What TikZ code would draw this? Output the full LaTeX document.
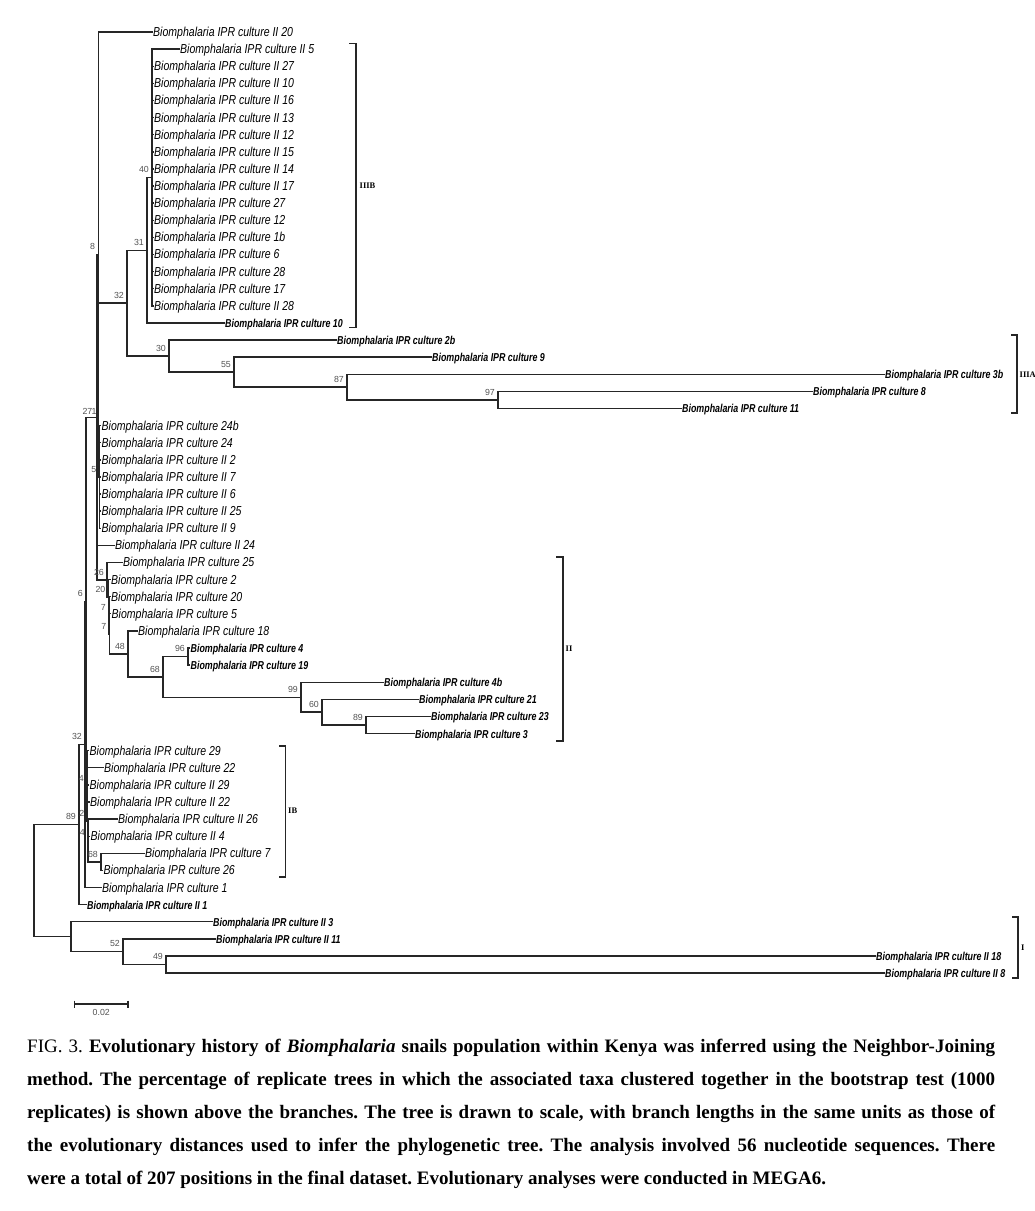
\documentclass[tikz,border=0pt]{standalone}
\usepackage{fontspec}
\newfontfamily\leaffont[FakeStretch=0.81]{Liberation Sans}
\newfontfamily\leafbold[FakeStretch=0.77]{Liberation Sans}
\newfontfamily\numfont{Liberation Sans}
\newfontfamily\capfont{Liberation Serif}
\usetikzlibrary{positioning,calc}

\begin{document}
\begin{tikzpicture}[x=1pt,y=-1pt,
br/.style={line width=1.4pt,draw=black!85,line cap=rect},
leaf/.style={anchor=west,inner sep=1pt,text height=9.5pt,text depth=0.5pt,
  font=\leaffont\itshape\fontsize{13}{13}\selectfont},
leafb/.style={leaf,font=\leafbold\bfseries\itshape\fontsize{11.5}{11.5}\selectfont},
bs/.style={inner sep=0pt,text=black!68,font=\numfont\fontsize{8.8}{8.8}\selectfont},
clade/.style={anchor=west,inner sep=0pt,font=\capfont\bfseries\fontsize{8.5}{8.5}\selectfont},
bracket/.style={line width=1.2pt,draw=black!85}]

\useasboundingbox (0,0) rectangle (1035,1211);

% internal nodes
\coordinate (n40) at (152,177.5);
\coordinate (n31) at (147,250.2);
\coordinate (n97) at (498,399.9);
\coordinate (n87) at (347,387.0);
\coordinate (n55) at (234,372.1);
\coordinate (n30) at (169,356.0);
\coordinate (n32a) at (127,303.1);
\coordinate (n5) at (99.5,476.9);
\coordinate (n8) at (98.3,254.4);
\coordinate (n27) at (97,417.2);
\coordinate (n96) at (188,656.5);
\coordinate (n89b) at (366,725.0);
\coordinate (n60) at (322,712.1);
\coordinate (n99) at (301,697.2);
\coordinate (n68) at (163,676.9);
\coordinate (n48) at (128,653.9);
\coordinate (n7b) at (109.5,633.8);
\coordinate (n7a) at (109,615.2);
\coordinate (n20) at (108.5,597.4);
\coordinate (n26) at (107,579.9);
\coordinate (n68b) at (101,861.9);
\coordinate (n4b) at (88,840.5);
\coordinate (n2) at (87.5,821.3);
\coordinate (n4a) at (87,786.0);
\coordinate (n6) at (86,601.6);
\coordinate (n32b) at (85,744.6);
\coordinate (n89) at (79,824.6);
\coordinate (n49) at (166,964.5);
\coordinate (n52) at (123,951.6);
\coordinate (nI) at (71,936.7);
\coordinate (nRoot) at (34,880.6);

% taxa
\node[leaf] (t-II20) at (152,32.0) {Biomphalaria IPR culture II 20};
\node[leaf] (t-II5) at (179,49.1) {Biomphalaria IPR culture II 5};
\node[leaf] (t-II27) at (153,66.2) {Biomphalaria IPR culture II 27};
\node[leaf] (t-II10) at (153,83.3) {Biomphalaria IPR culture II 10};
\node[leaf] (t-II16) at (153,100.4) {Biomphalaria IPR culture II 16};
\node[leaf] (t-II13) at (153,117.6) {Biomphalaria IPR culture II 13};
\node[leaf] (t-II12) at (153,134.7) {Biomphalaria IPR culture II 12};
\node[leaf] (t-II15) at (153,151.8) {Biomphalaria IPR culture II 15};
\node[leaf] (t-II14) at (153,168.9) {Biomphalaria IPR culture II 14};
\node[leaf] (t-II17) at (153,186.0) {Biomphalaria IPR culture II 17};
\node[leaf] (t-27) at (153,203.1) {Biomphalaria IPR culture 27};
\node[leaf] (t-12) at (153,220.2) {Biomphalaria IPR culture 12};
\node[leaf] (t-1b) at (153,237.3) {Biomphalaria IPR culture 1b};
\node[leaf] (t-6) at (153,254.4) {Biomphalaria IPR culture 6};
\node[leaf] (t-28) at (153,271.5) {Biomphalaria IPR culture 28};
\node[leaf] (t-17) at (153,288.7) {Biomphalaria IPR culture 17};
\node[leaf] (t-II28) at (153,305.8) {Biomphalaria IPR culture II 28};
\node[leafb] (t-10) at (224,322.9) {Biomphalaria IPR culture 10};
\node[leafb] (t-2b) at (336,340.0) {Biomphalaria IPR culture 2b};
\node[leafb] (t-9) at (431,357.1) {Biomphalaria IPR culture 9};
\node[leafb] (t-3b) at (884,374.2) {Biomphalaria IPR culture 3b};
\node[leafb] (t-8) at (812,391.3) {Biomphalaria IPR culture 8};
\node[leafb] (t-11) at (681,408.4) {Biomphalaria IPR culture 11};
\node[leaf] (t-24b) at (100.5,425.5) {Biomphalaria IPR culture 24b};
\node[leaf] (t-24) at (100.5,442.6) {Biomphalaria IPR culture 24};
\node[leaf] (t-II2) at (100.5,459.8) {Biomphalaria IPR culture II 2};
\node[leaf] (t-II7) at (100.5,476.9) {Biomphalaria IPR culture II 7};
\node[leaf] (t-II6) at (100.5,494.0) {Biomphalaria IPR culture II 6};
\node[leaf] (t-II25) at (100.5,511.1) {Biomphalaria IPR culture II 25};
\node[leaf] (t-II9) at (100.5,528.2) {Biomphalaria IPR culture II 9};
\node[leaf] (t-II24) at (114,545.3) {Biomphalaria IPR culture II 24};
\node[leaf] (t-25) at (122,562.4) {Biomphalaria IPR culture 25};
\node[leaf] (t-2) at (110,579.5) {Biomphalaria IPR culture 2};
\node[leaf] (t-20) at (110,596.6) {Biomphalaria IPR culture 20};
\node[leaf] (t-5) at (110.5,613.7) {Biomphalaria IPR culture 5};
\node[leaf] (t-18) at (137,630.9) {Biomphalaria IPR culture 18};
\node[leafb] (t-4) at (189.5,648.0) {Biomphalaria IPR culture 4};
\node[leafb] (t-19) at (189.5,665.1) {Biomphalaria IPR culture 19};
\node[leafb] (t-4b) at (383,682.2) {Biomphalaria IPR culture 4b};
\node[leafb] (t-21) at (418,699.3) {Biomphalaria IPR culture 21};
\node[leafb] (t-23) at (430,716.4) {Biomphalaria IPR culture 23};
\node[leafb] (t-3) at (414,733.5) {Biomphalaria IPR culture 3};
\node[leaf] (t-29) at (88.5,750.6) {Biomphalaria IPR culture 29};
\node[leaf] (t-22) at (103,767.7) {Biomphalaria IPR culture 22};
\node[leaf] (t-II29) at (88.5,784.8) {Biomphalaria IPR culture II 29};
\node[leaf] (t-II22) at (89,802.0) {Biomphalaria IPR culture II 22};
\node[leaf] (t-II26) at (117,819.1) {Biomphalaria IPR culture II 26};
\node[leaf] (t-II4) at (89.5,836.2) {Biomphalaria IPR culture II 4};
\node[leaf] (t-7) at (144,853.3) {Biomphalaria IPR culture 7};
\node[leaf] (t-26) at (102.5,870.4) {Biomphalaria IPR culture 26};
\node[leaf] (t-1) at (101,887.5) {Biomphalaria IPR culture 1};
\node[leafb] (t-II1) at (86,904.6) {Biomphalaria IPR culture II 1};
\node[leafb] (t-II3) at (212,921.7) {Biomphalaria IPR culture II 3};
\node[leafb] (t-II11) at (215,938.8) {Biomphalaria IPR culture II 11};
\node[leafb] (t-II18) at (875,955.9) {Biomphalaria IPR culture II 18};
\node[leafb] (t-II8) at (884,973.0) {Biomphalaria IPR culture II 8};

% branches
\draw[br] (n8) |- (t-II20.west) (n8) |- (n32a) (n8) |- (n5);
\draw[br] (n32a) |- (n31) (n32a) |- (n30);
\draw[br] (n31) |- (n40) (n31) |- (t-10.west);
\draw[br] (n40) |- (t-II5.west) (n40) |- (t-II27.west) (n40) |- (t-II10.west)
  (n40) |- (t-II16.west) (n40) |- (t-II13.west) (n40) |- (t-II12.west)
  (n40) |- (t-II15.west) (n40) |- (t-II14.west) (n40) |- (t-II17.west)
  (n40) |- (t-27.west) (n40) |- (t-12.west) (n40) |- (t-1b.west)
  (n40) |- (t-6.west) (n40) |- (t-28.west) (n40) |- (t-17.west)
  (n40) |- (t-II28.west);
\draw[br] (n30) |- (t-2b.west) (n30) |- (n55);
\draw[br] (n55) |- (t-9.west) (n55) |- (n87);
\draw[br] (n87) |- (t-3b.west) (n87) |- (n97);
\draw[br] (n97) |- (t-8.west) (n97) |- (t-11.west);
\draw[br] (n27) |- (n8) (n27) |- (t-II24.west) (n27) |- (n26);
\draw[br] (n5) |- (t-24b.west) (n5) |- (t-24.west) (n5) |- (t-II2.west)
  (n5) |- (t-II7.west) (n5) |- (t-II6.west) (n5) |- (t-II25.west)
  (n5) |- (t-II9.west);
\draw[br] (n26) |- (t-25.west) (n26) |- (n20);
\draw[br] (n20) |- (t-2.west) (n20) |- (n7a);
\draw[br] (n7a) |- (t-20.west) (n7a) |- (n7b);
\draw[br] (n7b) |- (t-5.west) (n7b) |- (n48);
\draw[br] (n48) |- (t-18.west) (n48) |- (n68);
\draw[br] (n68) |- (n96) (n68) |- (n99);
\draw[br] (n96) |- (t-4.west) (n96) |- (t-19.west);
\draw[br] (n99) |- (t-4b.west) (n99) |- (n60);
\draw[br] (n60) |- (t-21.west) (n60) |- (n89b);
\draw[br] (n89b) |- (t-23.west) (n89b) |- (t-3.west);
\draw[br] (n6) |- (n27) (n6) |- (n4a);
\draw[br] (n32b) |- (n6) (n32b) |- (t-1.west);
\draw[br] (n4a) |- (t-29.west) (n4a) |- (t-22.west) (n4a) |- (t-II29.west) (n4a) |- (n2);
\draw[br] (n2) |- (t-II22.west) (n2) |- (n4b);
\draw[br] (n4b) |- (t-II26.west) (n4b) |- (t-II4.west) (n4b) |- (n68b);
\draw[br] (n68b) |- (t-7.west) (n68b) |- (t-26.west);
\draw[br] (n89) |- (n32b) (n89) |- (t-II1.west);
\draw[br] (nRoot) |- (n89) (nRoot) |- (nI);
\draw[br] (nI) |- (t-II3.west) (nI) |- (n52);
\draw[br] (n52) |- (t-II11.west) (n52) |- (n49);
\draw[br] (n49) |- (t-II18.west) (n49) |- (t-II8.west);

% bootstrap values
\node[bs,above left=4.5pt and 3pt of n40] {40};
\node[bs,above left=4.5pt and 3pt of n31] {31};
\node[bs,above left=4.5pt and 3pt of n32a] {32};
\node[bs,above left=4.5pt and 3pt of n8] {8};
\node[bs,above left=4.5pt and 3pt of n30] {30};
\node[bs,above left=4.5pt and 3pt of n55] {55};
\node[bs,above left=4.5pt and 3pt of n87] {87};
\node[bs,above left=4.5pt and 3pt of n97] {97};
\node[bs,above left=3pt and 4.5pt of n27] {27};
\node[bs,above left=3pt and 0.3pt of n27] {1};
\node[bs,above left=4.5pt and 3pt of n5] {5};
\node[bs,above left=4.5pt and 3pt of n26] {26};
\node[bs,above left=4.5pt and 3pt of n20] {20};
\node[bs,above left=4.5pt and 3pt of n7a] {7};
\node[bs,above left=4.5pt and 3pt of n7b] {7};
\node[bs,above left=4.5pt and 3pt of n48] {48};
\node[bs,above left=4.5pt and 3pt of n96] {96};
\node[bs,above left=4.5pt and 3pt of n68] {68};
\node[bs,above left=4.5pt and 3pt of n99] {99};
\node[bs,above left=4.5pt and 3pt of n60] {60};
\node[bs,above left=4.5pt and 3pt of n89b] {89};
\node[bs,above left=4.5pt and 3pt of n6] {6};
\node[bs,above left=4.5pt and 3pt of n32b] {32};
\node[bs,above left=4.5pt and 3pt of n4a] {4};
\node[bs,above left=4.5pt and 3pt of n2] {2};
\node[bs,above left=4.5pt and 3pt of n4b] {4};
\node[bs,above left=4.5pt and 3pt of n68b] {68};
\node[bs,above left=4.5pt and 3pt of n89] {89};
\node[bs,above left=4.5pt and 3pt of n52] {52};
\node[bs,above left=4.5pt and 3pt of n49] {49};

% clade brackets
\draw[bracket] (349,43.5) -- (356,43.5) -- (356,327.5) -- (349,327.5);
\node[clade] (IIIB) at (359.5,186) {IIIB};
\draw[bracket] (1011,335) -- (1017,335) -- (1017,413) -- (1011,413);
\node[clade] (IIIA) at (1019.5,374.5) {IIIA};
\draw[bracket] (556,557) -- (563,557) -- (563,741) -- (556,741);
\node[clade] (II) at (565.5,649) {II};
\draw[bracket] (279,746) -- (285.5,746) -- (285.5,877) -- (279,877);
\node[clade] (IB) at (288,811) {IB};
\draw[bracket] (1012,917) -- (1018,917) -- (1018,978) -- (1012,978);
\node[clade] (I) at (1021,947.5) {I};

% scale bar
\coordinate (sbl) at (74.5,1004);
\coordinate (sbr) at (128,1004);
\draw[bracket] (sbl) -- (sbr) ([yshift=3.5pt]sbl) -- ([yshift=-3.5pt]sbl)
  ([yshift=3.5pt]sbr) -- ([yshift=-3.5pt]sbr);
\node[bs,below=5pt of $(sbl)!0.5!(sbr)$] (sblab) {0.02};

% caption
\node[anchor=north west,inner sep=0pt,text width=968pt,align=justify,
  font=\capfont\bfseries\fontsize{19}{33}\selectfont\frenchspacing] (caption) at (27,1039)
  {{\mdseries FIG. 3.} Evolutionary history of \textit{Biomphalaria} snails population within Kenya was inferred using the Neighbor-Joining\linebreak
  method. The percentage of replicate trees in which the associated taxa clustered together in the bootstrap test (1000\linebreak
  replicates) is shown above the branches. The tree is drawn to scale, with branch lengths in the same units as those of\linebreak
  the evolutionary distances used to infer the phylogenetic tree. The analysis involved 56 nucleotide sequences. There\linebreak
  were a total of 207 positions in the final dataset. Evolutionary analyses were conducted in MEGA6.};

\end{tikzpicture}
\end{document}
